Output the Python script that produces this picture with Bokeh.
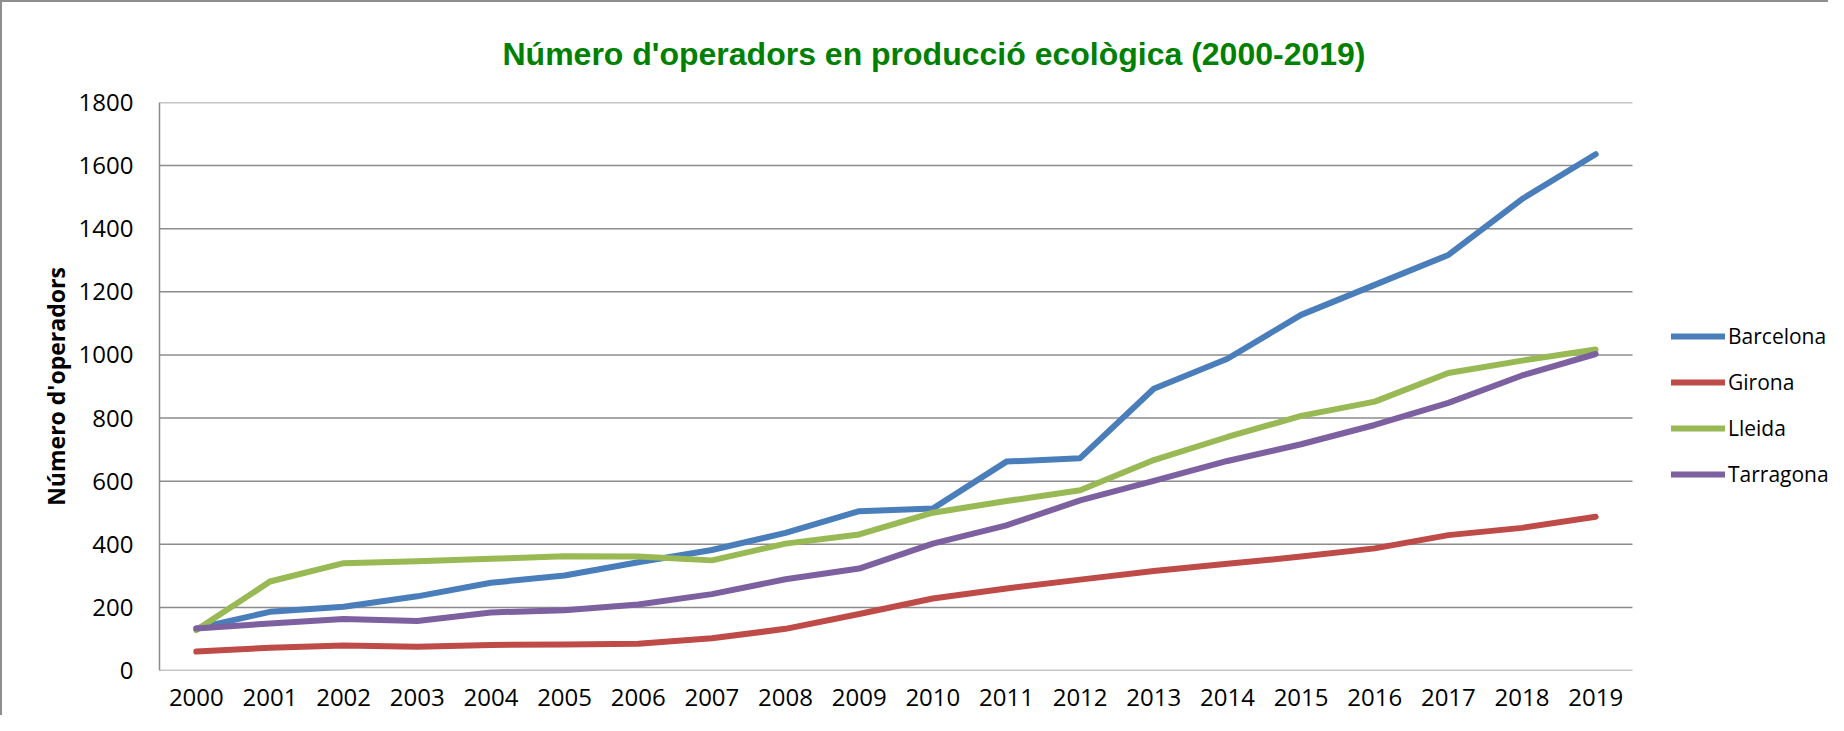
from bokeh.plotting import figure
from bokeh.models import Range1d, FixedTicker, Legend, LegendItem
from bokeh.embed import file_html
from bokeh.resources import INLINE

years = [2000, 2001, 2002, 2003, 2004, 2005, 2006, 2007, 2008, 2009,
         2010, 2011, 2012, 2013, 2014, 2015, 2016, 2017, 2018, 2019]
barcelona = [133, 186, 202, 235, 278, 301, 343, 382, 436, 505, 513, 662, 673, 893, 988, 1127, 1222, 1317, 1494, 1636]
girona = [60, 72, 79, 75, 81, 82, 85, 102, 132, 179, 228, 260, 288, 315, 338, 361, 387, 429, 452, 487]
lleida = [128, 282, 340, 346, 354, 362, 361, 349, 402, 431, 500, 537, 571, 667, 740, 807, 852, 943, 982, 1017]
tarragona = [133, 149, 163, 157, 184, 191, 209, 242, 289, 323, 402, 460, 539, 601, 664, 717, 778, 848, 935, 1003]
series_names = ["Barcelona", "Girona", "Lleida", "Tarragona"]
y_ticks = [0, 200, 400, 600, 800, 1000, 1200, 1400, 1600, 1800]

colors = ["#4A7EBB", "#BE4B48", "#98B954", "#7D60A0"]
GRID = "#8c8c8c"
FONT = "Open Sans"

# layout (pixels)
W, H = 1828, 715
BL, BT, BR, BB = 157, 99, 0, 47
plot_px = 1473            # width of the data area in px
frame_px = W - BL - BR    # full frame width (data area + legend area)
x_start = years[0] - 0.5
x_data_end = years[-1] + 0.5
x_end = x_start + (x_data_end - x_start) * frame_px / plot_px

p = figure(width=W, height=H, x_range=Range1d(x_start, x_end),
           y_range=Range1d(y_ticks[0], y_ticks[-1]), output_backend="svg", toolbar_location=None,
           min_border_left=BL, min_border_top=BT, min_border_right=BR, min_border_bottom=BB)

p.title.text = "Número d'operadors en producció ecològica (2000-2019)"
p.title.text_font = "Liberation Sans"
p.title.text_font_style = "bold"
p.title.text_font_size = "32px"
p.title.text_color = "#008000"
p.title.align = "left"
p.title.offset = 343
p.title.standoff = 62

p.outline_line_color = None
p.background_fill_color = "white"
p.border_fill_color = "white"

# y axis
p.yaxis.ticker = FixedTicker(ticks=y_ticks)
p.yaxis.major_tick_line_color = None
p.yaxis.minor_tick_line_color = None
p.yaxis.axis_line_color = GRID
p.yaxis.axis_line_width = 1.5
p.yaxis.major_label_text_font = FONT
p.yaxis.major_label_text_font_size = "24px"
p.yaxis.major_label_text_color = "black"
p.yaxis.major_label_standoff = 20
p.yaxis.axis_label = "Número d'operadors"
p.yaxis.axis_label_text_font = FONT
p.yaxis.axis_label_text_font_style = "bold"
p.yaxis.axis_label_text_font_size = "23px"
p.yaxis.axis_label_text_color = "black"
p.yaxis.axis_label_standoff = 4

# x axis
p.xaxis.ticker = FixedTicker(ticks=years)
p.xaxis.major_tick_line_color = None
p.xaxis.minor_tick_line_color = None
p.xaxis.axis_line_color = None
p.xaxis.major_label_text_font = FONT
p.xaxis.major_label_text_font_size = "24px"
p.xaxis.major_label_text_color = "black"
p.xaxis.major_label_standoff = 12

p.xgrid.grid_line_color = None
p.ygrid.grid_line_color = None

# horizontal gridlines limited to the data area
p.segment(x0=[x_start] * len(y_ticks), x1=[x_data_end] * len(y_ticks), y0=y_ticks, y1=y_ticks,
          line_color=GRID, line_width=1.5)

renderers = []
for name, vals, c in zip(series_names, [barcelona, girona, lleida, tarragona], colors):
    r = p.line(years, vals, line_color=c, line_width=6, line_cap="round", line_join="round")
    renderers.append(r)

legend = Legend(items=[LegendItem(label=n, renderers=[r]) for n, r in zip(series_names, renderers)],
                location=(1512, 181), orientation="vertical",
                label_text_font=FONT, label_text_font_size="21px", label_text_color="black",
                glyph_width=54, glyph_height=30, label_height=30, label_standoff=3,
                spacing=16, padding=0, margin=0,
                background_fill_alpha=0, border_line_color=None)
p.add_layout(legend, "center")

p.styles = {"border-top": "2px solid #8e8e8e", "border-left": "2px solid #8e8e8e"}

open("out.html", "w").write(file_html(p, INLINE))
